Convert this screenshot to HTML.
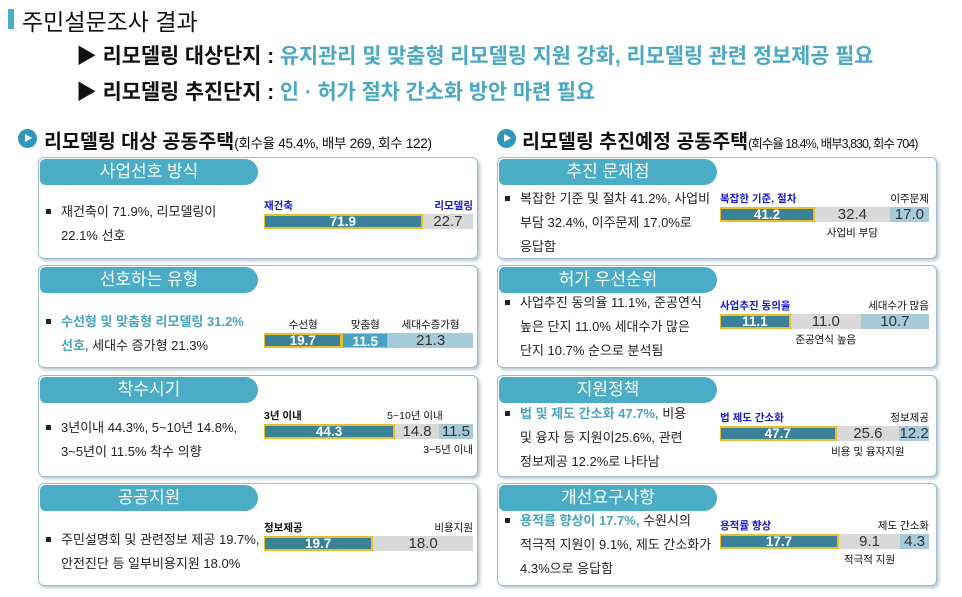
<!DOCTYPE html>
<html><head><meta charset="utf-8">
<style>
*{margin:0;padding:0;box-sizing:border-box}
body{width:962px;height:597px;background:#fff;position:relative;overflow:hidden;font-family:"Liberation Sans","Noto Sans CJK KR",sans-serif;color:#111}
.abs{position:absolute;white-space:nowrap}
.card{position:absolute;width:440px;border:1px solid #9fbccc;border-radius:6px;background:#fff;box-shadow:2px 2px 3px #b9c6cf}
.pill{position:absolute;left:1px;top:1px;width:218px;height:26px;background:#4bacc6;border-radius:6px 14px 14px 6px;color:#fff;font-size:17px;text-align:center;line-height:26px}
.txt{position:absolute;font-size:13px;line-height:24px;color:#222}
.txt .b{color:#4aa3bf;font-weight:bold}
.bul{display:inline-block;width:5px;height:5px;background:#222;margin:0 10px 2px 8px}
.sec{font-size:19.5px;font-weight:bold}
.sec small{font-size:13.5px;font-weight:normal;letter-spacing:-0.3px}
.circ{position:absolute;width:19px;height:19px;border-radius:50%;background:#2f97b9}
.circ:after{content:"";position:absolute;left:7px;top:5px;border-left:7px solid #fff;border-top:4.5px solid transparent;border-bottom:4.5px solid transparent}
</style></head><body>
<div class="abs" style="left:8px;top:9px;width:6px;height:20px;background:#4bacc6"></div>
<div class="abs" style="left:22px;top:3px;font-size:23px">주민설문조사 결과</div>
<div class="abs" style="left:76px;top:39px;font-size:20.8px;font-weight:bold">▶ 리모델링 대상단지 : <span style="color:#4aa8c4">유지관리 및 맞춤형 리모델링 지원 강화, 리모델링 관련 정보제공 필요</span></div>
<div class="abs" style="left:76px;top:75px;font-size:20.8px;font-weight:bold">▶ 리모델링 추진단지 : <span style="color:#4aa8c4">인 · 허가 절차 간소화 방안 마련 필요</span></div>

<div class="circ" style="left:18px;top:129px"></div>
<div class="abs sec" style="left:44px;top:125px">리모델링 대상 공동주택<small>(회수율 45.4%, 배부 269, 회수 122)</small></div>
<div class="circ" style="left:497px;top:129px"></div>
<div class="abs sec" style="left:522px;top:125px">리모델링 추진예정 공동주택<small style="font-size:12.5px;letter-spacing:-1px">(회수율 18.4%, 배부3,830, 회수 704)</small></div>

<div id="root"></div>
<script>
// panel data
const titles=["사업선호 방식","선호하는 유형","착수시기","공공지원","추진 문제점","허가 우선순위","지원정책","개선요구사항"];
const cats=[["재건축","리모델링"],["수선형","맞춤형","세대수증가형"],["3년 이내","5~10년 이내","3~5년 이내"],["정보제공","비용지원"],["복잡한 기준, 절차","사업비 부담","이주문제"],["사업추진 동의율","준공연식 높음","세대수가 많음"],["법 제도 간소화","비용 및 융자지원","정보제공"],["용적률 향상","적극적 지원","제도 간소화"]];
const vals=[[71.9,22.7],[19.7,11.5,21.3],[44.3,14.8,11.5],[19.7,18.0],[41.2,32.4,17.0],[11.1,11.0,10.7],[47.7,25.6,12.2],[17.7,9.1,4.3]];
const labelPos=[["t","t"],["t","t","t"],["t","t","b"],["t","t"],["t","b","t"],["t","b","t"],["t","b","t"],["t","b","t"]];
const texts=[
 '재건축이 71.9%, 리모델링이<br><span style="margin-left:23px">22.1% 선호</span>',
 '<span class="b">수선형 및 맞춤형 리모델링 31.2%</span><br><span style="margin-left:23px"><span class="b">선호,</span> 세대수 증가형 21.3%</span>',
 '3년이내 44.3%, 5~10년 14.8%,<br><span style="margin-left:23px">3~5년이 11.5% 착수 의향</span>',
 '주민설명회 및 관련정보 제공 19.7%,<br><span style="margin-left:23px">안전진단 등 일부비용지원 18.0%</span>',
 '복잡한 기준 및 절차 41.2%, 사업비<br><span style="margin-left:23px">부담 32.4%, 이주문제 17.0%로</span><br><span style="margin-left:23px">응답함</span>',
 '사업추진 동의율 11.1%, 준공연식<br><span style="margin-left:23px">높은 단지 11.0% 세대수가 많은</span><br><span style="margin-left:23px">단지 10.7% 순으로 분석됨</span>',
 '<span class="b">법 및 제도 간소화 47.7%,</span> 비용<br><span style="margin-left:23px">및 융자 등 지원이25.6%, 관련</span><br><span style="margin-left:23px">정보제공 12.2%로 나타남</span>',
 '<span class="b">용적률 향상이 17.7%,</span> 수원시의<br><span style="margin-left:23px">적극적 지원이 9.1%, 제도 간소화가</span><br><span style="margin-left:23px">4.3%으로 응답함</span>'
];
const cardTops=[157,265,375,483];
const barTops=[[214,333,424,536],[207,314,426,534]];
const textTops=[[200,310,416,528],[187,291,402,509]];
const colors=["#3a8199","#d9d9d9","#a8cbd9"];
const root=document.getElementById('root');
function mk(tag,parent,style,html){const e=document.createElement(tag);e.style.cssText=style;if(html!==undefined)e.innerHTML=html;parent.appendChild(e);return e;}
for(let p=0;p<8;p++){
  const side=p<4?0:1,row=p%4;
  const cx=side?497:38, top=cardTops[row];
  const card=mk('div',root,`left:${cx}px;top:${top}px;height:${row==0||row==2?102:103}px`);
  card.className='card';
  
  
  const pill=mk('div',card,'',titles[p]);pill.className='pill';
  
  
  const t=mk('div',root,`left:${cx}px;top:${textTops[side][row]}px`,'<span class="bul"></span>'+texts[p]);t.className='txt';
  
  
  const bx=side?720:264, bw=209, by=barTops[side][row], bh=15;
  const total=vals[p].reduce((a,b)=>a+b,0);
  const xs=v=>v/total*bw;
  let x=bx;
  vals[p].forEach((v,i)=>{
    const w=xs(v);
    let col=colors[i]; if(vals[p].length==2&&i==1)col=colors[1];
    if(p==1&&i==1)col="#4aa3c4";
    if(p==1&&i==2)col=colors[2];
    const hi=i==0||(p==1&&i==1);
    const seg=mk('div',root,`position:absolute;left:${x}px;top:${by}px;width:${w}px;height:${bh}px;background:${col};${i==0?'border:2px solid #e8be2a;border-left-width:1px;border-right-width:2px;':''}${p==1&&i==1?'border:1px solid #e8be2a;':''}text-align:center;font-size:${hi?13.5:15}px;line-height:${i==0?11:bh}px;font-weight:${hi?'bold':'normal'};color:${hi?'#fff':'#333'}`,v.toFixed(1));
    
    
    const pos=labelPos[p][i];
    const first=i==0&&p!=1, last=i==vals[p].length-1;
    let ls='position:absolute;font-size:10.5px;white-space:nowrap;';
    ls+= pos=='t'?`top:${by-16}px;`:`top:${by+bh+3}px;`;
    if(p==1){ls+=`left:${x+w/2}px;transform:translateX(-50%);`;}
    else if(first){ls+=`left:${bx}px;font-weight:bold;color:${side||p==0?'#1a1ad0':'#111'};`;}
    else if(last){ls+=`right:${962-(bx+bw)}px;${p==0?'font-weight:bold;color:#1a1ad0;':''}`;}
    else {ls+=`left:${x+w/2}px;transform:translateX(-50%);`;}
    if(p==2&&i==1){ls='position:absolute;font-size:10.5px;white-space:nowrap;top:'+(by-16)+'px;left:'+(x-8)+'px;';}
    const lab=mk('div',root,ls,cats[p][i]);
    
    
    x+=w;
  });
}
</script>
</body></html>
